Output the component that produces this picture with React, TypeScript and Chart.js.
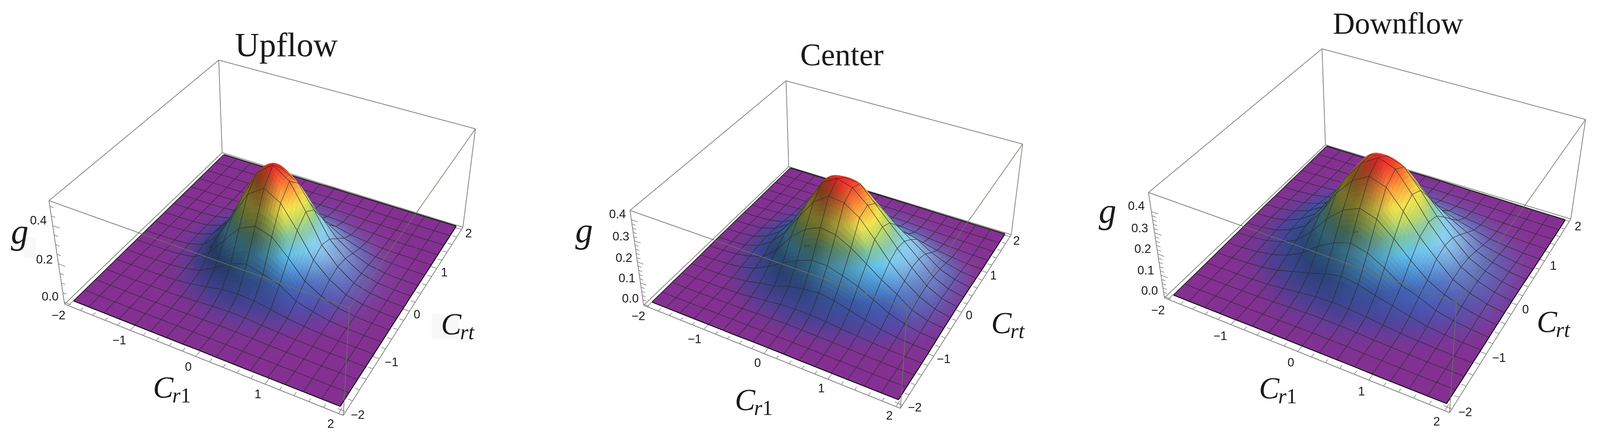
import React, { useRef, useEffect } from 'react';
import { Chart, registerables } from 'chart.js';

Chart.register(...registerables);

// Grid axes of the three surfaces
const cr1Values = [-2, -1.75, -1.5, -1.25, -1, -0.75, -0.5, -0.25, 0, 0.25, 0.5, 0.75, 1, 1.25, 1.5, 1.75, 2];
const crtValues = [-2, -1.75, -1.5, -1.25, -1, -0.75, -0.5, -0.25, 0, 0.25, 0.5, 0.75, 1, 1.25, 1.5, 1.75, 2];

const upflowG = [
  [0, 0, 0, 0, 0, 0, 0, 0, 0.001, 0, 0, 0, 0, 0, 0, 0, 0],
  [0, 0, 0, 0, 0, 0.001, 0.001, 0.002, 0.002, 0.002, 0.001, 0.001, 0, 0, 0, 0, 0],
  [0, 0, 0, 0, 0.001, 0.002, 0.003, 0.005, 0.006, 0.006, 0.004, 0.002, 0.001, 0, 0, 0, 0],
  [0, 0, 0, 0.001, 0.002, 0.005, 0.01, 0.016, 0.019, 0.017, 0.012, 0.007, 0.003, 0.001, 0, 0, 0],
  [0, 0, 0.001, 0.002, 0.006, 0.015, 0.03, 0.046, 0.052, 0.047, 0.034, 0.02, 0.01, 0.004, 0.001, 0, 0],
  [0, 0, 0.001, 0.004, 0.012, 0.03, 0.075, 0.126, 0.153, 0.13, 0.105, 0.05, 0.027, 0.01, 0.004, 0.001, 0],
  [0, 0.001, 0.002, 0.007, 0.02, 0.073, 0.164, 0.258, 0.298, 0.271, 0.189, 0.098, 0.05, 0.02, 0.007, 0.002, 0.001],
  [0, 0.001, 0.003, 0.01, 0.034, 0.11, 0.246, 0.387, 0.447, 0.395, 0.279, 0.153, 0.079, 0.03, 0.01, 0.003, 0.001],
  [0, 0.001, 0.004, 0.012, 0.04, 0.128, 0.287, 0.451, 0.521, 0.46, 0.325, 0.178, 0.092, 0.035, 0.012, 0.004, 0.001],
  [0, 0.001, 0.003, 0.01, 0.035, 0.111, 0.25, 0.392, 0.453, 0.4, 0.283, 0.155, 0.08, 0.03, 0.01, 0.003, 0.001],
  [0, 0.001, 0.002, 0.007, 0.024, 0.076, 0.169, 0.266, 0.307, 0.271, 0.192, 0.105, 0.054, 0.021, 0.007, 0.002, 0.001],
  [0, 0, 0.001, 0.004, 0.012, 0.04, 0.089, 0.14, 0.162, 0.143, 0.101, 0.055, 0.029, 0.011, 0.004, 0.001, 0],
  [0, 0, 0, 0.001, 0.005, 0.015, 0.034, 0.054, 0.063, 0.055, 0.039, 0.021, 0.011, 0.004, 0.001, 0, 0],
  [0, 0, 0, 0, 0.002, 0.005, 0.011, 0.018, 0.021, 0.018, 0.013, 0.007, 0.004, 0.001, 0, 0, 0],
  [0, 0, 0, 0, 0.001, 0.002, 0.004, 0.006, 0.007, 0.006, 0.005, 0.002, 0.001, 0, 0, 0, 0],
  [0, 0, 0, 0, 0, 0.001, 0.001, 0.002, 0.002, 0.002, 0.001, 0.001, 0, 0, 0, 0, 0],
  [0, 0, 0, 0, 0, 0, 0, 0, 0.001, 0, 0, 0, 0, 0, 0, 0, 0],
];

const centerG = [
  [0, 0, 0, 0, 0, 0, 0, 0.001, 0.001, 0.001, 0, 0, 0, 0, 0, 0, 0],
  [0, 0, 0, 0, 0, 0.001, 0.001, 0.002, 0.002, 0.002, 0.002, 0.001, 0.001, 0.001, 0, 0, 0],
  [0, 0, 0, 0.001, 0.002, 0.003, 0.006, 0.008, 0.01, 0.009, 0.008, 0.006, 0.004, 0.002, 0.001, 0, 0],
  [0, 0, 0.001, 0.002, 0.005, 0.011, 0.019, 0.026, 0.03, 0.03, 0.025, 0.019, 0.013, 0.008, 0.004, 0.002, 0],
  [0, 0.001, 0.002, 0.006, 0.014, 0.029, 0.041, 0.064, 0.077, 0.085, 0.073, 0.056, 0.036, 0.02, 0.01, 0.004, 0.001],
  [0, 0.001, 0.004, 0.012, 0.03, 0.063, 0.105, 0.141, 0.167, 0.165, 0.144, 0.118, 0.082, 0.045, 0.022, 0.008, 0.003],
  [0.001, 0.002, 0.007, 0.021, 0.042, 0.1, 0.185, 0.245, 0.278, 0.266, 0.229, 0.178, 0.128, 0.085, 0.037, 0.014, 0.005],
  [0.001, 0.003, 0.009, 0.029, 0.07, 0.141, 0.239, 0.334, 0.384, 0.375, 0.327, 0.248, 0.166, 0.1, 0.051, 0.02, 0.006],
  [0.001, 0.003, 0.01, 0.032, 0.078, 0.157, 0.266, 0.385, 0.427, 0.406, 0.344, 0.264, 0.185, 0.117, 0.057, 0.022, 0.007],
  [0.001, 0.003, 0.009, 0.029, 0.071, 0.142, 0.241, 0.363, 0.391, 0.383, 0.309, 0.239, 0.174, 0.113, 0.052, 0.02, 0.006],
  [0.001, 0.002, 0.007, 0.021, 0.052, 0.105, 0.178, 0.249, 0.289, 0.283, 0.244, 0.185, 0.138, 0.093, 0.044, 0.018, 0.005],
  [0, 0.001, 0.004, 0.013, 0.032, 0.064, 0.108, 0.151, 0.176, 0.172, 0.148, 0.112, 0.096, 0.055, 0.028, 0.011, 0.003],
  [0, 0.001, 0.002, 0.006, 0.016, 0.032, 0.054, 0.075, 0.087, 0.085, 0.074, 0.056, 0.037, 0.022, 0.012, 0.004, 0.001],
  [0, 0, 0.001, 0.003, 0.006, 0.013, 0.022, 0.031, 0.035, 0.035, 0.03, 0.023, 0.015, 0.009, 0.005, 0.002, 0.001],
  [0, 0, 0, 0.001, 0.002, 0.004, 0.007, 0.01, 0.012, 0.011, 0.01, 0.007, 0.005, 0.003, 0.002, 0.001, 0],
  [0, 0, 0, 0, 0.001, 0.001, 0.002, 0.003, 0.003, 0.003, 0.003, 0.002, 0.001, 0.001, 0, 0, 0],
  [0, 0, 0, 0, 0, 0, 0.001, 0.001, 0.001, 0.001, 0.001, 0, 0, 0, 0, 0, 0],
];

const downflowG = [
  [0, 0, 0, 0, 0, 0.001, 0.001, 0.001, 0.001, 0.001, 0.001, 0.001, 0, 0, 0, 0, 0],
  [0, 0, 0, 0.001, 0.001, 0.002, 0.003, 0.004, 0.005, 0.004, 0.004, 0.002, 0.002, 0.001, 0, 0, 0],
  [0, 0, 0.001, 0.002, 0.003, 0.006, 0.01, 0.013, 0.014, 0.013, 0.011, 0.007, 0.005, 0.003, 0.001, 0.001, 0],
  [0, 0.001, 0.002, 0.004, 0.008, 0.016, 0.026, 0.034, 0.038, 0.036, 0.028, 0.02, 0.013, 0.007, 0.004, 0.002, 0.001],
  [0, 0.002, 0.005, 0.011, 0.023, 0.045, 0.065, 0.091, 0.108, 0.097, 0.074, 0.055, 0.036, 0.019, 0.01, 0.005, 0.002],
  [0.001, 0.003, 0.009, 0.022, 0.045, 0.083, 0.143, 0.187, 0.213, 0.194, 0.151, 0.098, 0.071, 0.038, 0.02, 0.009, 0.003],
  [0.001, 0.005, 0.014, 0.034, 0.069, 0.136, 0.225, 0.293, 0.329, 0.304, 0.238, 0.163, 0.098, 0.058, 0.031, 0.014, 0.005],
  [0.002, 0.006, 0.018, 0.046, 0.091, 0.18, 0.298, 0.387, 0.435, 0.408, 0.319, 0.223, 0.146, 0.077, 0.041, 0.018, 0.006],
  [0.002, 0.007, 0.02, 0.05, 0.1, 0.198, 0.327, 0.425, 0.478, 0.448, 0.351, 0.245, 0.16, 0.085, 0.045, 0.02, 0.007],
  [0.002, 0.006, 0.018, 0.046, 0.092, 0.182, 0.301, 0.42, 0.44, 0.412, 0.323, 0.225, 0.147, 0.078, 0.041, 0.018, 0.006],
  [0.001, 0.005, 0.014, 0.035, 0.07, 0.139, 0.229, 0.298, 0.335, 0.314, 0.246, 0.172, 0.112, 0.06, 0.032, 0.014, 0.005],
  [0.001, 0.003, 0.009, 0.023, 0.046, 0.091, 0.15, 0.196, 0.22, 0.206, 0.161, 0.113, 0.074, 0.039, 0.021, 0.009, 0.003],
  [0, 0.002, 0.005, 0.012, 0.024, 0.048, 0.078, 0.102, 0.115, 0.108, 0.084, 0.059, 0.038, 0.02, 0.011, 0.005, 0.002],
  [0, 0.001, 0.002, 0.005, 0.01, 0.02, 0.033, 0.043, 0.048, 0.045, 0.035, 0.025, 0.016, 0.009, 0.005, 0.002, 0.001],
  [0, 0, 0.001, 0.002, 0.004, 0.007, 0.011, 0.015, 0.017, 0.016, 0.012, 0.009, 0.006, 0.003, 0.002, 0.001, 0],
  [0, 0, 0, 0.001, 0.001, 0.002, 0.004, 0.005, 0.006, 0.005, 0.004, 0.003, 0.002, 0.001, 0.001, 0, 0],
  [0, 0, 0, 0, 0, 0.001, 0.001, 0.002, 0.002, 0.002, 0.001, 0.001, 0.001, 0, 0, 0, 0],
];

// Axis ticks
const crMajorTicks = [-2, -1, 0, 1, 2];
const crMinorTicks = [-1.8, -1.6, -1.4, -1.2, -0.8, -0.6, -0.4, -0.2, 0.2, 0.4, 0.6, 0.8, 1.2, 1.4, 1.6, 1.8];
const upflowGMinor = [0.05, 0.1, 0.15, 0.25, 0.3, 0.35, 0.45, 0.5];
const upflowGMajor = [0, 0.2, 0.4];
const otherGMinor = [0.02, 0.04, 0.06, 0.08, 0.12, 0.14, 0.16, 0.18, 0.22, 0.24, 0.26, 0.28, 0.32, 0.34, 0.36, 0.38];
const otherGMajor = [0, 0.1, 0.2, 0.3, 0.4];

type Pt = [number, number];
type Quad = [Pt, Pt, Pt, Pt];

interface Panel {
  left: number;
  title: string;
  titleAt: Pt;
  titleSize: number;
  grid: number[][];
  gMin: number;
  gMax: number;
  gMajor: number[];
  gMinor: number[];
  gLabels: string[];
  // corners in order (-2,-2), (2,-2), (2,2), (-2,2)
  base: Quad;
  top: Quad;
  sheet: Quad;
  gLabelAt: Pt[];
  cr1LabelAt: Pt[];
  crtLabelAt: Pt[];
  cr1At: Pt;
  crtAt: Pt;
  gAt: Pt;
  patches?: [number, number, number, number][];
  tiny: { text: string; at: Pt };
}

const panels: Panel[] = [
  {
    left: 0,
    title: 'Upflow',
    titleAt: [754, 121],
    titleSize: 86,
    grid: upflowG,
    gMin: -0.01,
    gMax: 0.53,
    gMajor: upflowGMajor,
    gMinor: upflowGMinor,
    gLabels: ['0.0', '0.2', '0.4'],
    base: [[170, 779], [904, 1064], [1219, 582], [585, 391]],
    top: [[129, 514], [920, 789], [1252, 330], [576, 154]],
    sheet: [[194, 771], [896, 1041], [1201, 580], [589, 397]],
    gLabelAt: [[132, 761], [117, 666], [101, 566]],
    cr1LabelAt: [[154, 809], [314, 873], [496, 941], [679, 1011], [871, 1087]],
    crtLabelAt: [[942, 1064], [1031, 929], [1098, 807], [1170, 699], [1234, 599]],
    cr1At: [453, 993],
    crtAt: [1205, 831],
    gAt: [52, 632],
    patches: [[63, 607, 32, 53], [1137, 805, 70, 63]],
    tiny: { text: 'g', at: [555, 632] },
  },
  {
    left: 1400,
    title: 'Center',
    titleAt: [817, 146],
    titleSize: 80,
    grid: centerG,
    gMin: -0.006,
    gMax: 0.444,
    gMajor: otherGMajor,
    gMinor: otherGMinor,
    gLabels: ['0.0', '0.1', '0.2', '0.3', '0.4'],
    base: [[295, 782], [971, 1046], [1263, 601], [677, 427]],
    top: [[259, 539], [989, 789], [1293, 369], [670, 207]],
    sheet: [[317, 774], [966, 1024], [1246, 600], [681, 431]],
    gLabelAt: [[260, 766], [251, 714], [243, 662], [235, 607], [226, 550]],
    cr1LabelAt: [[281, 811], [429, 870], [595, 931], [763, 996], [942, 1066]],
    crtLabelAt: [[1009, 1045], [1085, 921], [1152, 809], [1216, 707], [1277, 618]],
    cr1At: [585, 1025],
    crtAt: [1254, 828],
    gAt: [138, 629],
    tiny: { text: 'Cr1', at: [725, 631] },
  },
  {
    left: 2814,
    title: 'Downflow',
    titleAt: [868, 66],
    titleSize: 78,
    grid: downflowG,
    gMin: -0.007,
    gMax: 0.49,
    gMajor: otherGMajor,
    gMinor: otherGMinor,
    gLabels: ['0.0', '0.1', '0.2', '0.3', '0.4'],
    base: [[253, 763], [1004, 1057], [1323, 561], [677, 371]],
    top: [[211, 493], [1022, 775], [1362, 306], [668, 125]],
    sheet: [[277, 756], [996, 1034], [1308, 564], [680, 375]],
    gLabelAt: [[214, 746], [204, 694], [196, 639], [188, 586], [179, 529]],
    cr1LabelAt: [[236, 796], [400, 862], [586, 930], [772, 1004], [970, 1081]],
    crtLabelAt: [[1045, 1057], [1134, 918], [1204, 794], [1277, 682], [1342, 581]],
    cr1At: [552, 995],
    crtAt: [1277, 825],
    gAt: [103, 579],
    tiny: { text: 'Crt', at: [757, 594] },
  },
];

const refWidth = 4214;
const panelWidth = 1400;
const panelHeight = 1122;
const boxColor = '#858585';
const frontBoxColor = 'rgba(104,116,96,0.85)';
const meshColor = 'rgba(44,44,44,0.8)';
const edgeColor = '#111111';
const tickFont = '31px "Liberation Sans"';
const serif = '"Liberation Serif"';

// height fraction -> colour, same rainbow as the surface in the picture
const ramp: [number, number, number, number][] = [
  [0, 132, 47, 146],
  [0.006, 128, 50, 148],
  [0.02, 110, 60, 156],
  [0.05, 86, 72, 166],
  [0.1, 72, 86, 176],
  [0.18, 68, 104, 188],
  [0.28, 80, 150, 215],
  [0.38, 95, 192, 235],
  [0.5, 125, 195, 160],
  [0.6, 190, 215, 100],
  [0.7, 242, 228, 80],
  [0.82, 250, 165, 60],
  [1, 240, 42, 40],
];

const rampColor = (t: number): [number, number, number] => {
  for (let k = 1; k < ramp.length; k++) {
    if (t <= ramp[k][0]) {
      const a = ramp[k - 1];
      const b = ramp[k];
      const f = (t - a[0]) / (b[0] - a[0]);
      return [a[1] + (b[1] - a[1]) * f, a[2] + (b[2] - a[2]) * f, a[3] + (b[3] - a[3]) * f];
    }
  }
  const last = ramp[ramp.length - 1];
  return [last[1], last[2], last[3]];
};

// unit square -> quadrilateral
const makeHomography = (q: Quad) => {
  const [[x0, y0], [x1, y1], [x2, y2], [x3, y3]] = q;
  const dx1 = x1 - x2;
  const dx2 = x3 - x2;
  const sx = x0 - x1 + x2 - x3;
  const dy1 = y1 - y2;
  const dy2 = y3 - y2;
  const sy = y0 - y1 + y2 - y3;
  const den = dx1 * dy2 - dx2 * dy1;
  const g = (sx * dy2 - dx2 * sy) / den;
  const h = (dx1 * sy - sx * dy1) / den;
  const a = x1 - x0 + g * x1;
  const b = x3 - x0 + h * x3;
  const d = y1 - y0 + g * y1;
  const e = y3 - y0 + h * y3;
  return (u: number, v: number): Pt => {
    const w = g * u + h * v + 1;
    return [(a * u + b * v + x0) / w, (d * u + e * v + y0) / w];
  };
};

const line = (points: Pt[], color: string, width: number) => ({
  data: points.map(([x, y]) => ({ x, y })),
  showLine: true,
  pointRadius: 0,
  borderColor: color,
  borderWidth: width,
  clip: false,
  fill: false,
});

// smooth blend between mesh nodes, only used for the painted skin
const spline = (p0: number, p1: number, p2: number, p3: number, t: number) =>
  0.5 * (2 * p1 + (p2 - p0) * t + (2 * p0 - 5 * p1 + 4 * p2 - p3) * t * t + (3 * p1 - p0 - 3 * p2 + p3) * t * t * t);

const buildChart = (canvas: HTMLCanvasElement, panel: Panel) => {
  const baseH = makeHomography(panel.base);
  const topH = makeHomography(panel.top);
  const sheetH = makeHomography(panel.sheet);
  const range = panel.gMax - panel.gMin;
  const n = cr1Values.length;
  const peak = Math.max(...panel.grid.flat());
  const clampIdx = (k: number) => Math.max(0, Math.min(n - 1, k));

  const uOf = (x: number) => (x + 2) / 4;
  const surfacePoint = (x: number, y: number, g: number): Pt => {
    const u = uOf(x);
    const v = uOf(y);
    const [sx, sy] = sheetH(u, v);
    const [bx, by] = baseH(u, v);
    const [tx, ty] = topH(u, v);
    const f = g / range;
    return [sx + (tx - bx) * f, sy + (ty - by) * f];
  };
  const boxPoint = (u: number, v: number, w: number): Pt => {
    const [bx, by] = baseH(u, v);
    const [tx, ty] = topH(u, v);
    return [bx + (tx - bx) * w, by + (ty - by) * w];
  };
  const tickU = (x: number) => 0.015 + uOf(x) * 0.97;

  // slope across the screen, gives the darker left flank and the paler right one
  const shade: number[][] = panel.grid.map((row, j) =>
    row.map((_, i) => {
      const gx = panel.grid[j][clampIdx(i + 1)] - panel.grid[j][clampIdx(i - 1)];
      const gy = panel.grid[clampIdx(j + 1)][i] - panel.grid[clampIdx(j - 1)][i];
      return (gx + gy) / peak;
    }),
  );

  const smoothValue = (table: number[][], i: number, j: number, fu: number, fv: number) => {
    const rows = [j - 1, j, j + 1, j + 2].map((jj) => {
      const r = table[clampIdx(jj)];
      return spline(r[clampIdx(i - 1)], r[i], r[i + 1], r[clampIdx(i + 2)], fu);
    });
    return spline(rows[0], rows[1], rows[2], rows[3], fv);
  };

  const colorAt = (i: number, j: number, fu: number, fv: number) => {
    const t = Math.max(0, smoothValue(panel.grid, i, j, fu, fv) / peak);
    const s = smoothValue(shade, i, j, fu, fv);
    let [r, g, b] = rampColor(t);
    if (s > 0) {
      const k = 1 - 0.5 * Math.min(1, s / 0.55);
      r *= k;
      g *= k;
      b *= k;
    } else {
      const k = 0.32 * Math.min(1, -s / 0.35) * Math.max(0, Math.min(1, (0.62 - t) / 0.3));
      r += (255 - r) * k;
      g += (255 - g) * k;
      b += (255 - b) * k;
    }
    return `rgb(${Math.round(r)},${Math.round(g)},${Math.round(b)})`;
  };

  const datasets: any[] = [];

  // back of the box, behind the surface
  const [b0, b1, b2, b3] = panel.base;
  const [t0, t1, t2, t3] = panel.top;
  const backEdges: [Pt, Pt][] = [
    [b0, b1], [b1, b2], [b2, b3], [b3, b0],
    [b0, t0], [b3, t3], [b2, t2],
    [t0, t3], [t3, t2],
  ];
  backEdges.forEach((e) => datasets.push(line(e, boxColor, 2)));

  const addTick = (from: Pt, to: Pt) => datasets.push(line([from, to], boxColor, 1.6));
  crMajorTicks.forEach((x) => {
    addTick(boxPoint(tickU(x), 0, 0), boxPoint(tickU(x), 0.026, 0));
    addTick(boxPoint(1, tickU(x), 0), boxPoint(0.974, tickU(x), 0));
  });
  crMinorTicks.forEach((x) => {
    addTick(boxPoint(tickU(x), 0, 0), boxPoint(tickU(x), 0.015, 0));
    addTick(boxPoint(1, tickU(x), 0), boxPoint(0.985, tickU(x), 0));
  });
  const wOf = (g: number) => (g - panel.gMin) / range;
  panel.gMajor.forEach((g) => addTick(boxPoint(0, 0, wOf(g)), boxPoint(0.026, 0, wOf(g))));
  panel.gMinor.forEach((g) => addTick(boxPoint(0, 0, wOf(g)), boxPoint(0.015, 0, wOf(g))));

  // outline of the sheet: the far sides go under the cells
  const edgeRun = (pick: (k: number) => [number, number]): Pt[] =>
    cr1Values.map((_, k) => {
      const [i, j] = pick(k);
      return surfacePoint(cr1Values[i], crtValues[j], panel.grid[j][i]);
    });
  datasets.push(line(edgeRun((k) => [k, n - 1]), edgeColor, 4.5));
  datasets.push(line(edgeRun((k) => [0, k]), edgeColor, 3));

  // surface cells, far corner first
  const cells: [number, number][] = [];
  for (let j = 0; j < n - 1; j++) {
    for (let i = 0; i < n - 1; i++) cells.push([i, j]);
  }
  cells.sort((a, b) => a[0] - a[1] - (b[0] - b[1]));
  cells.forEach(([i, j]) => {
    const corners: Pt[] = [
      surfacePoint(cr1Values[i], crtValues[j], panel.grid[j][i]),
      surfacePoint(cr1Values[i + 1], crtValues[j], panel.grid[j][i + 1]),
      surfacePoint(cr1Values[i + 1], crtValues[j + 1], panel.grid[j + 1][i + 1]),
      surfacePoint(cr1Values[i], crtValues[j + 1], panel.grid[j + 1][i]),
    ];
    const ds: any = line([...corners, corners[0]], meshColor, 1.4);
    ds.cell = [i, j];
    datasets.push(ds);
  });

  datasets.push(line(edgeRun((k) => [k, 0]), edgeColor, 2.4));
  datasets.push(line(edgeRun((k) => [n - 1, k]), edgeColor, 2.4));

  // front of the box, over the surface
  const frontEdges: [Pt, Pt][] = [[t0, t1], [t2, t1], [t1, b1]];
  frontEdges.forEach((e) => datasets.push(line(e, frontBoxColor, 2)));

  const surfacePlugin = {
    id: 'surfacePaint',
    beforeDatasetDraw(chart: any, args: any) {
      const ds = chart.data.datasets[args.index];
      if (!ds.cell) return;
      const [i, j] = ds.cell;
      const { ctx } = chart;
      const sx = chart.scales.x;
      const sy = chart.scales.y;
      const steps = 6;
      const nodes: Pt[][] = [];
      for (let b = 0; b <= steps; b++) {
        const rowPts: Pt[] = [];
        for (let a = 0; a <= steps; a++) {
          const fu = a / steps;
          const fv = b / steps;
          const x = cr1Values[i] + (cr1Values[i + 1] - cr1Values[i]) * fu;
          const y = crtValues[j] + (crtValues[j + 1] - crtValues[j]) * fv;
          const g = Math.max(0, smoothValue(panel.grid, i, j, fu, fv));
          const [px, py] = surfacePoint(x, y, g);
          rowPts.push([sx.getPixelForValue(px), sy.getPixelForValue(py)]);
        }
        nodes.push(rowPts);
      }
      ctx.save();
      ctx.lineWidth = 0.9;
      ctx.lineJoin = 'round';
      for (let b = steps - 1; b >= 0; b--) {
        for (let a = 0; a < steps; a++) {
          const c = colorAt(i, j, (a + 0.5) / steps, (b + 0.5) / steps);
          ctx.fillStyle = c;
          ctx.strokeStyle = c;
          ctx.beginPath();
          ctx.moveTo(nodes[b][a][0], nodes[b][a][1]);
          ctx.lineTo(nodes[b][a + 1][0], nodes[b][a + 1][1]);
          ctx.lineTo(nodes[b + 1][a + 1][0], nodes[b + 1][a + 1][1]);
          ctx.lineTo(nodes[b + 1][a][0], nodes[b + 1][a][1]);
          ctx.closePath();
          ctx.fill();
          ctx.stroke();
        }
      }
      ctx.restore();
    },
  };

  const drawSymbol = (ctx: any, sub: string, cx: number, cy: number) => {
    const size = 78;
    const subSize = 54;
    ctx.textAlign = 'left';
    ctx.textBaseline = 'alphabetic';
    ctx.font = `italic ${size}px ${serif}`;
    const cw = ctx.measureText('C').width - 3;
    ctx.font = `italic ${subSize}px ${serif}`;
    const sw = ctx.measureText(sub).width;
    const startX = cx - (cw + sw) / 2;
    const baseY = cy + size * 0.32;
    ctx.font = `italic ${size}px ${serif}`;
    ctx.fillText('C', startX, baseY);
    ctx.font = `italic ${subSize}px ${serif}`;
    if (sub.endsWith('1')) {
      const rw = ctx.measureText('r').width;
      ctx.fillText('r', startX + cw, baseY + 13);
      ctx.font = `${subSize}px ${serif}`;
      ctx.fillText('1', startX + cw + rw, baseY + 13);
    } else {
      ctx.fillText(sub, startX + cw, baseY + 13);
    }
  };

  const textPlugin = {
    id: 'panelText',
    afterDraw(chart: any) {
      const { ctx } = chart;
      const X = (v: number) => chart.scales.x.getPixelForValue(v);
      const Y = (v: number) => chart.scales.y.getPixelForValue(v);
      ctx.save();
      ctx.fillStyle = '#f8f8f8';
      (panel.patches || []).forEach(([x, y, w, h]) => ctx.fillRect(X(x), Y(y), X(x + w) - X(x), h));
      ctx.fillStyle = '#1a1a1a';
      ctx.textAlign = 'center';
      ctx.textBaseline = 'middle';
      ctx.font = `${panel.titleSize}px ${serif}`;
      ctx.fillText(panel.title, X(panel.titleAt[0]), Y(panel.titleAt[1]));
      ctx.font = tickFont;
      panel.gLabels.forEach((t, k) => ctx.fillText(t, X(panel.gLabelAt[k][0]), Y(panel.gLabelAt[k][1])));
      crMajorTicks.forEach((v, k) => {
        const text = v < 0 ? `\u2212${-v}` : `${v}`;
        ctx.fillText(text, X(panel.cr1LabelAt[k][0]), Y(panel.cr1LabelAt[k][1]));
        ctx.fillText(text, X(panel.crtLabelAt[k][0]), Y(panel.crtLabelAt[k][1]));
      });
      ctx.font = `italic 90px ${serif}`;
      ctx.fillText('g', X(panel.gAt[0]), Y(panel.gAt[1]) - 32);
      drawSymbol(ctx, 'r1', X(panel.cr1At[0]), Y(panel.cr1At[1]));
      drawSymbol(ctx, 'rt', X(panel.crtAt[0]), Y(panel.crtAt[1]));
      ctx.textAlign = 'center';
      ctx.textBaseline = 'middle';
      ctx.font = `italic 9px ${serif}`;
      ctx.fillText(panel.tiny.text, X(panel.tiny.at[0]), Y(panel.tiny.at[1]));
      ctx.restore();
    },
  };

  // Chart.js paints the first dataset last, so hand them over reversed
  return new Chart(canvas, {
    type: 'scatter',
    data: { datasets: datasets.reverse() },
    options: {
      responsive: false,
      animation: false,
      events: [],
      layout: { padding: 0 },
      plugins: { legend: { display: false }, tooltip: { enabled: false }, title: { display: false } },
      scales: {
        x: { type: 'linear', min: 0, max: panelWidth, display: false },
        y: { type: 'linear', min: 0, max: panelHeight, reverse: true, display: false },
      },
    },
    plugins: [surfacePlugin, textPlugin],
  } as any);
};

// the window can be narrower than the reference, so the panels follow its width
const SurfacePanel: React.FC<{ panel: Panel; fit: number }> = ({ panel, fit }) => {
  const chartRef = useRef<HTMLCanvasElement>(null);

  useEffect(() => {
    if (!chartRef.current) return;
    const chart = buildChart(chartRef.current, panel);
    return () => chart.destroy();
  }, [panel]);

  const width = Math.round(panelWidth * fit);
  return (
    <div style={{ position: 'absolute', left: Math.round(panel.left * fit), top: 0, width, height: panelHeight }}>
      <canvas ref={chartRef} width={width} height={panelHeight} style={{ display: 'block' }}></canvas>
    </div>
  );
};

const App: React.FC = () => {
  useEffect(() => {
    document.body.style.margin = '0';
    document.body.style.background = '#ffffff';
  }, []);

  const fit = Math.min(1, window.innerWidth / refWidth);

  return (
    <div style={{ position: 'relative', width: refWidth * fit, height: panelHeight, overflow: 'hidden' }}>
      {panels.map((p) => (
        <SurfacePanel key={p.title} panel={p} fit={fit} />
      ))}
    </div>
  );
};

export default App;
